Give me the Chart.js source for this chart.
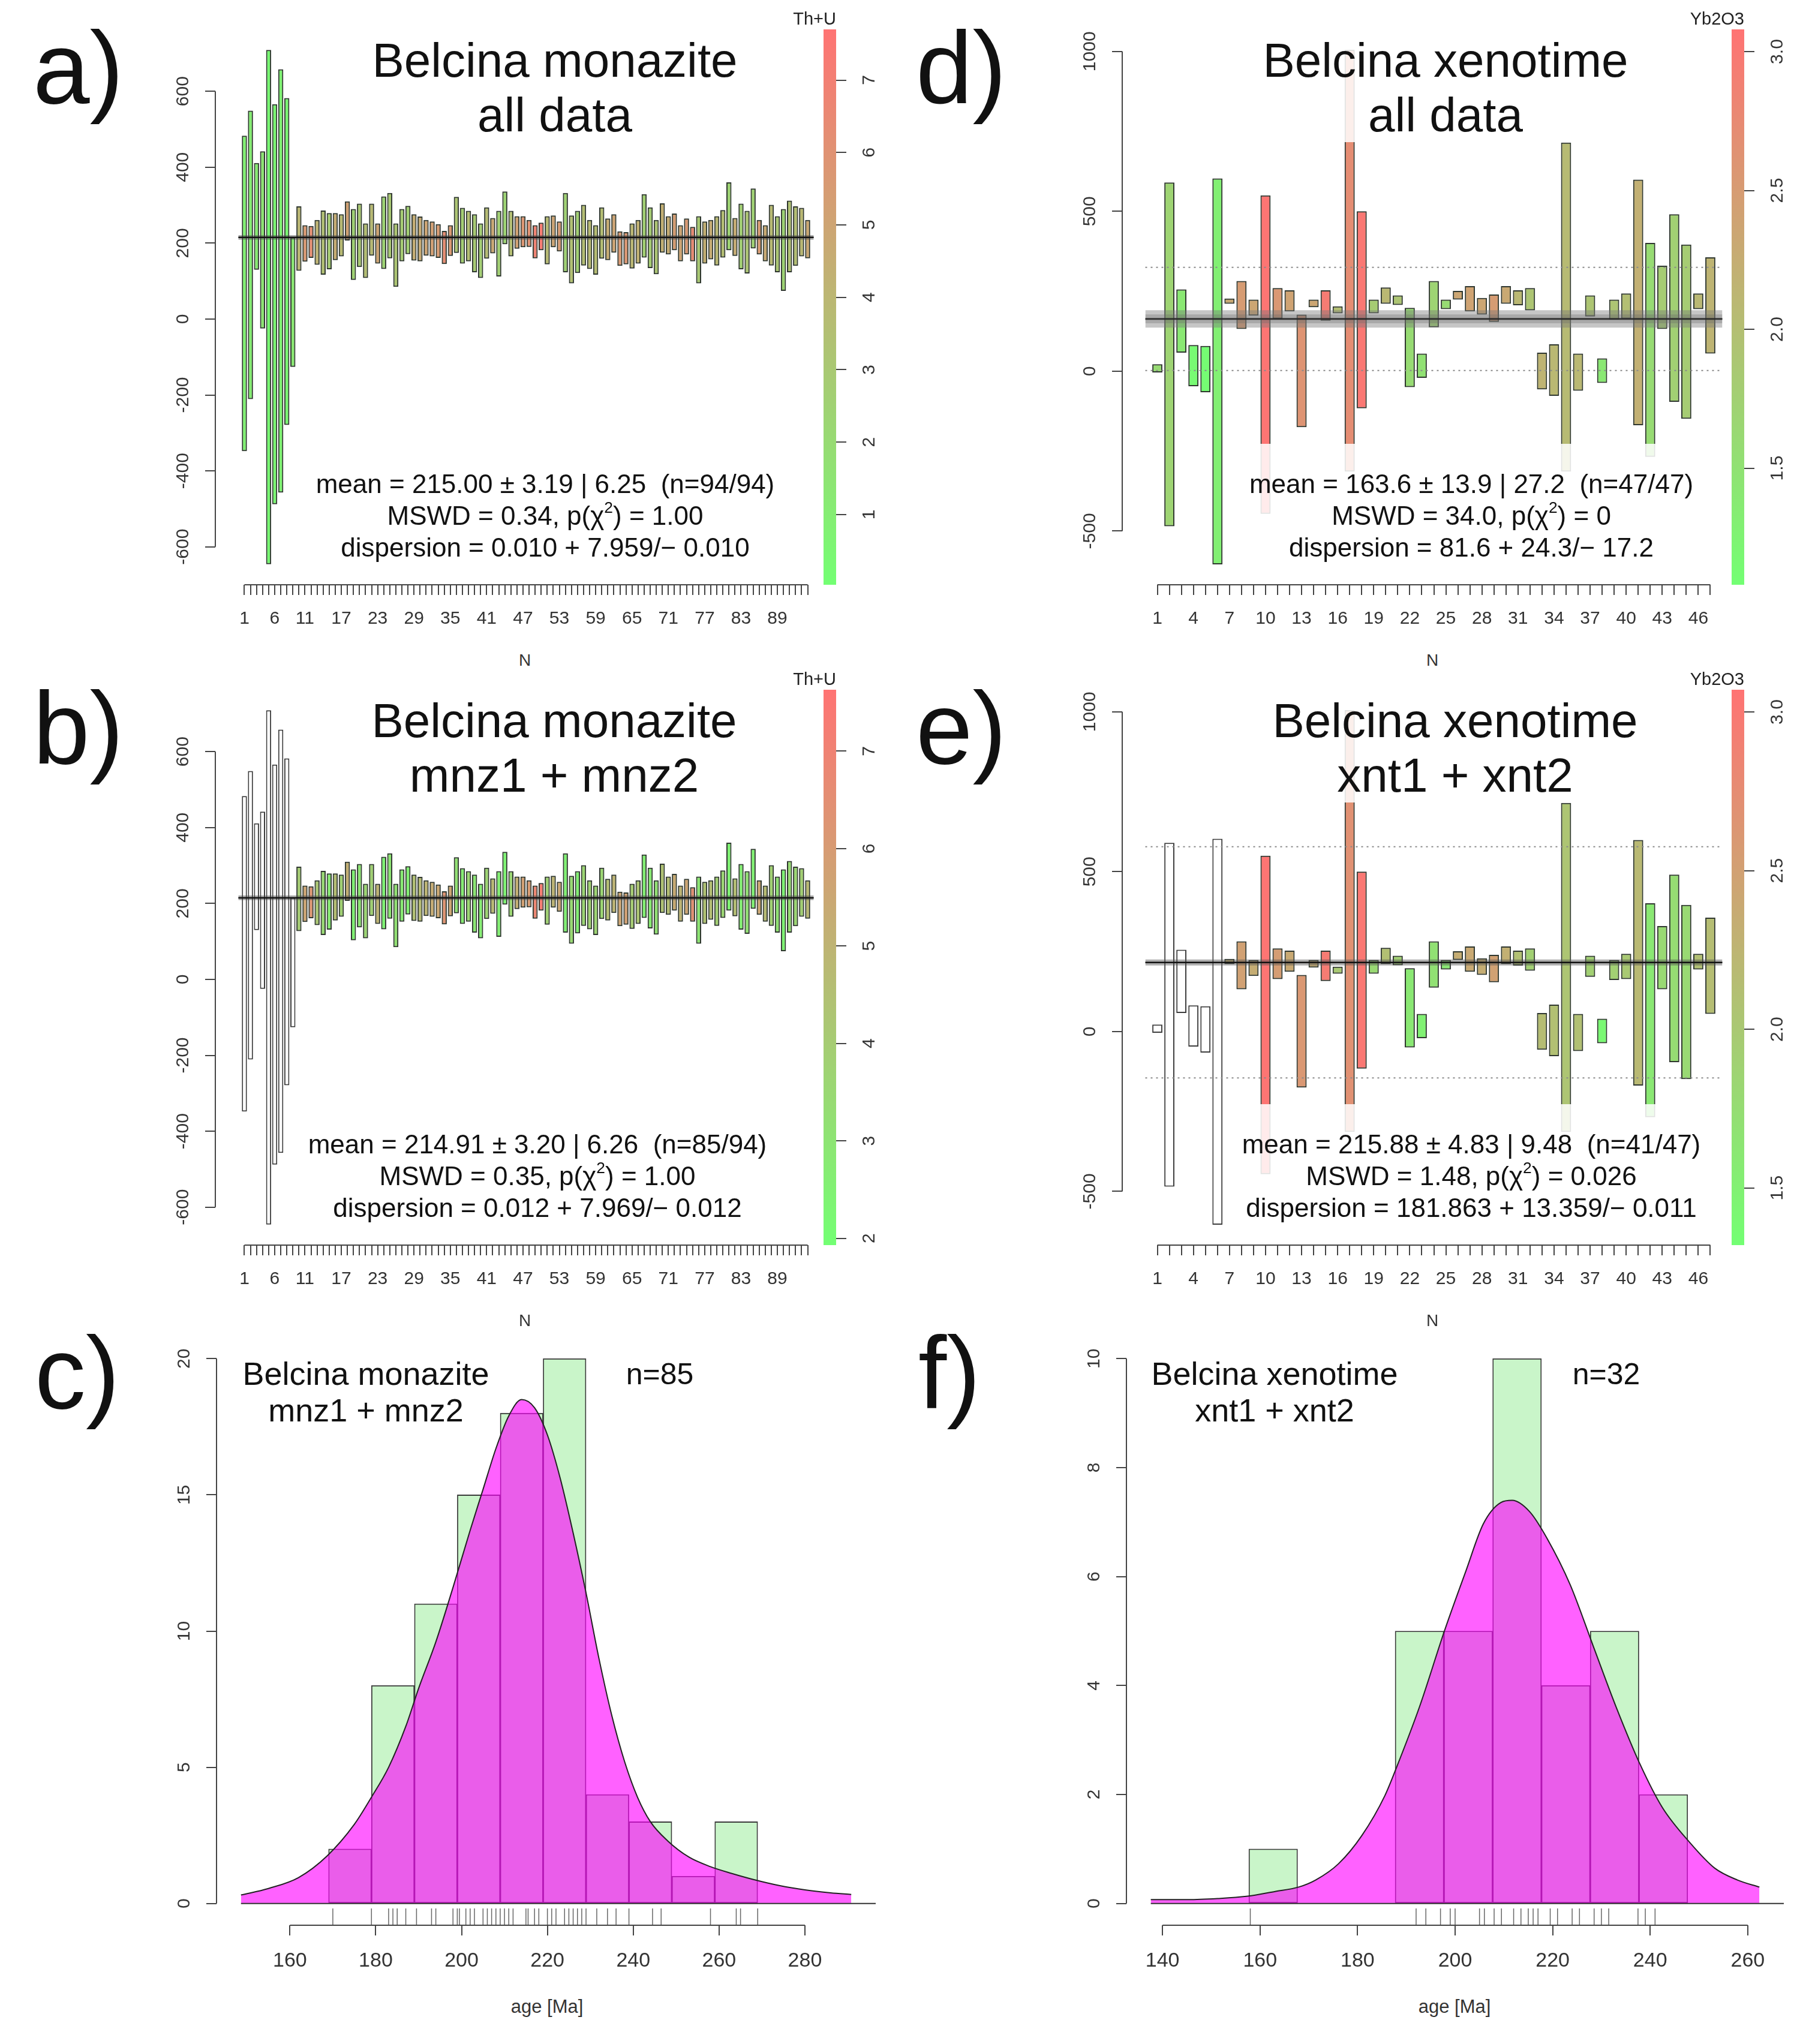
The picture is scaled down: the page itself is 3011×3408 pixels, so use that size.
<!DOCTYPE html>
<html>
<head>
<meta charset="utf-8">
<title>Belcina monazite and xenotime ages</title>
<script src="https://cdn.jsdelivr.net/npm/chart.js@4.4.1/dist/chart.umd.min.js"></script>
<style>
  html, body { margin: 0; padding: 0; background: #fff; overflow: hidden; }
  #page { position: relative; width: 3011px; height: 3408px; overflow: hidden; background: #fff;
          font-family: "Liberation Sans", Arial, Helvetica, sans-serif; color: #111; }
  #page canvas { position: absolute; }
  .t { position: absolute; white-space: nowrap; text-align: center; transform: translateX(-50%); z-index: 5; }
  .fade { background: rgba(255,255,255,0.86); }
  .letter { position: absolute; font-size: 170px; line-height: 170px; z-index: 5; }
  .title { font-size: 80px; line-height: 91px; }
  .stats { font-size: 44px; line-height: 53px; padding-top: 40px; }
  .htitle { font-size: 54px; line-height: 61px; }
  .nlab { font-size: 50px; line-height: 61px; }
  .small { font-size: 28px; line-height: 28px; color: #333; }
  .axt { font-size: 31px; line-height: 31px; color: #333; }
  .cbt { position: absolute; font-size: 29px; line-height: 29px; color: #222; z-index: 5; }
  sup { font-size: 0.6em; line-height: 0; vertical-align: 0.75em; }
</style>
</head>
<body>
<div id="page">
  <div class="letter" style="left:55px;top:28px">a)</div>
  <div class="letter" style="left:55px;top:1129px">b)</div>
  <div class="letter" style="left:58px;top:2204px">c)</div>
  <div class="letter" style="left:1527px;top:28px">d)</div>
  <div class="letter" style="left:1527px;top:1129px">e)</div>
  <div class="letter" style="left:1531px;top:2204px">f)</div>

  <div class="t fade title" style="left:925px;top:55px">Belcina monazite<br>all data</div>
  <div class="t fade title" style="left:924px;top:1156px">Belcina monazite<br>mnz1 + mnz2</div>
  <div class="t fade title" style="left:2410px;top:55px">Belcina xenotime<br>all data</div>
  <div class="t fade title" style="left:2426px;top:1156px">Belcina xenotime<br>xnt1 + xnt2</div>

  <div class="t fade stats" style="left:909px;top:740px">mean = 215.00 ± 3.19 | 6.25&nbsp;&nbsp;(n=94/94)<br>MSWD = 0.34, p(χ<sup>2</sup>) = 1.00<br>dispersion = 0.010 + 7.959/− 0.010</div>
  <div class="t fade stats" style="left:896px;top:1841px">mean = 214.91 ± 3.20 | 6.26&nbsp;&nbsp;(n=85/94)<br>MSWD = 0.35, p(χ<sup>2</sup>) = 1.00<br>dispersion = 0.012 + 7.969/− 0.012</div>
  <div class="t fade stats" style="left:2453px;top:740px">mean = 163.6 ± 13.9 | 27.2&nbsp;&nbsp;(n=47/47)<br>MSWD = 34.0, p(χ<sup>2</sup>) = 0<br>dispersion = 81.6 + 24.3/− 17.2</div>
  <div class="t fade stats" style="left:2453px;top:1841px">mean = 215.88 ± 4.83 | 9.48&nbsp;&nbsp;(n=41/47)<br>MSWD = 1.48, p(χ<sup>2</sup>) = 0.026<br>dispersion = 181.863 + 13.359/− 0.011</div>

  <div class="cbt" style="right:1617px;top:17px">Th+U</div>
  <div class="cbt" style="right:1617px;top:1118px">Th+U</div>
  <div class="cbt" style="right:103px;top:17px">Yb2O3</div>
  <div class="cbt" style="right:103px;top:1118px">Yb2O3</div>

  <div class="t small" style="left:875px;top:1087px">N</div>
  <div class="t small" style="left:2388px;top:1087px">N</div>
  <div class="t small" style="left:875px;top:2188px">N</div>
  <div class="t small" style="left:2388px;top:2188px">N</div>

  <div class="t htitle" style="left:610px;top:2260px">Belcina monazite<br>mnz1 + mnz2</div>
  <div class="t nlab" style="left:1100px;top:2261px">n=85</div>
  <div class="t htitle" style="left:2125px;top:2260px">Belcina xenotime<br>xnt1 + xnt2</div>
  <div class="t nlab" style="left:2678px;top:2261px">n=32</div>

  <div class="t axt" style="left:912px;top:3330px">age [Ma]</div>
  <div class="t axt" style="left:2425px;top:3330px">age [Ma]</div>
</div>

<script>
// monazite spot ages: lower and upper ends of each error bar (Ma), and Th+U of each spot
const monLo = [-348, -211, 130, -25, -646, -488, -457, -279, -126, 127,
  151, 161, 143, 117, 131, 155, 165, 207, 103, 137,
  108, 167, 146, 132, 160, 85, 152, 171, 154, 152,
  167, 165, 161, 145, 166, 174, 146, 152, 123, 108,
  159, 173, 112, 197, 165, 185, 189, 190, 160, 181,
  144, 189, 178, 123, 94, 121, 141, 132, 117, 159,
  155, 175, 140, 144, 133, 146, 162, 134, 118, 175,
  170, 181, 152, 170, 152, 94, 146, 157, 141, 162,
  181, 166, 131, 120, 186, 170, 152, 141, 123, 74,
  123, 140, 165, 160];
const monHi = [483, 549, 411, 442, 709, 566, 658, 582, 215, 297,
  247, 245, 261, 286, 279, 279, 276, 310, 290, 304,
  252, 304, 252, 323, 332, 252, 290, 298, 276, 270,
  261, 257, 250, 232, 247, 322, 293, 285, 276, 252,
  294, 266, 285, 336, 285, 271, 271, 261, 247, 254,
  271, 273, 257, 332, 273, 285, 301, 261, 247, 294,
  265, 276, 231, 229, 252, 261, 329, 294, 261, 305,
  271, 278, 247, 265, 243, 271, 257, 261, 271, 287,
  360, 266, 304, 285, 344, 261, 247, 301, 271, 290,
  312, 297, 293, 261];
const monThU = [0.8, 1.0, 1.2, 1.5, 0.3, 0.5, 0.7, 0.4, 1.3, 4.0,
  5.6, 6.2, 4.2, 3.5, 2.8, 4.6, 3.8, 5.2, 2.5, 3.0,
  3.6, 3.8, 5.0, 2.4, 3.0, 3.2, 2.8, 2.6, 4.5, 4.7,
  5.0, 5.3, 5.5, 6.3, 5.6, 3.2, 2.7, 3.6, 2.9, 2.7,
  3.7, 4.8, 2.6, 2.4, 3.6, 5.2, 5.8, 6.0, 6.8, 7.2,
  3.8, 5.0, 5.5, 2.5, 3.5, 2.6, 3.6, 3.8, 3.7, 3.6,
  4.6, 5.0, 5.6, 5.8, 4.0, 4.3, 2.6, 2.8, 3.2, 4.4,
  4.6, 5.4, 5.0, 5.6, 6.4, 3.0, 4.4, 4.6, 3.9, 3.6,
  2.4, 4.6, 2.6, 3.2, 2.5, 5.5, 4.7, 3.8, 3.1, 2.4,
  3.4, 3.6, 3.9, 4.8];

// xenotime spot ages and Yb2O3
const xenLo = [-4, -485, 58, -47, -66, -604, 211, 132, 174, -446,
  164, 187, -175, 200, 158, 181, -314, -116, 181, 211,
  207, -50, -21, 137, 194, 224, 187, 177, 154, 211,
  206, 190, -57, -77, -314, -61, 171, -37, 161, 164,
  -169, -268, 132, -96, -149, 194, 55];
const xenHi = [22, 590, 256, 82, 79, 603, 227, 282, 224, 550,
  260, 253, 177, 224, 253, 203, 1005, 500, 224, 262,
  237, 198, 55, 282, 224, 251, 266, 229, 240, 266,
  253, 260, 58, 84, 715, 55, 237, 40, 224, 243,
  599, 401, 330, 491, 396, 243, 356];
const xenYb = [1.6, 1.7, 1.4, 1.15, 1.1, 1.3, 2.3, 2.5, 2.35, 3.05,
  2.55, 2.4, 2.6, 2.35, 2.95, 2.0, 2.7, 3.0, 1.8, 2.1,
  1.9, 1.6, 1.5, 1.7, 1.6, 2.35, 2.4, 2.35, 2.5, 2.3,
  2.1, 1.9, 2.15, 2.1, 2.05, 2.1, 1.9, 1.4, 1.9, 2.0,
  2.2, 1.6, 1.8, 1.75, 1.8, 2.1, 2.15];

// tick labels
const monLabels = [1, 6, 11, 17, 23, 29, 35, 41, 47, 53, 59, 65, 71, 77, 83, 89];
const xenLabels = [1, 4, 7, 10, 13, 16, 19, 22, 25, 28, 31, 34, 37, 40, 43, 46];
const monYTicks = [-600, -400, -200, 0, 200, 400, 600];
const xenYTicks = [-500, 0, 500, 1000];

// colour scale ranges
const thuRangeAll = [0.03, 7.70];
const thuRangeSel = [1.93, 7.63];
const ybRangeAll = [1.08, 3.08];
const ybRangeSel = [1.32, 3.07];

// histograms (bin centres, counts), density curves and rug ticks
const monBins = [174, 184, 194, 204, 214, 224, 234, 244, 254, 264];
const monCounts = [2, 8, 11, 15, 18, 20, 4, 3, 1, 3];
const monKdeX = [148.6, 155, 162, 168.7, 175, 179, 183, 187, 190, 194, 198, 202, 205, 208, 211, 214,
  217, 220, 223, 226, 229, 232, 235, 238, 241, 244, 248, 253, 258, 263, 268, 274, 280, 286, 290.8];
const monKdeY = [0.31, 0.55, 0.95, 1.75, 2.9, 3.9, 5.0, 6.5, 7.9, 9.6, 11.6, 13.7, 15.2, 16.7, 17.9, 18.5,
  18.2, 17.2, 15.6, 13.6, 11.4, 9.0, 6.9, 5.2, 3.9, 3.0, 2.3, 1.7, 1.35, 1.1, 0.88, 0.66, 0.5, 0.39, 0.33];
const monRug = [170, 179, 183, 184, 185, 187, 189.5, 193, 194, 198, 199, 199.5, 201, 202, 203, 205, 206, 207,
  208, 209, 210, 211, 212, 215, 215.5, 217, 218, 220, 221, 222, 224, 225, 226, 227, 228, 229, 231.5,
  234, 236, 239, 244.5, 246.5, 258, 264, 265, 269];

const xenBins = [162.7, 172.7, 182.7, 192.7, 202.7, 212.7, 222.7, 232.7, 242.7];
const xenCounts = [1, 0, 0, 5, 5, 10, 4, 5, 2];
const xenKdeX = [137.6, 145.3, 151.3, 157.2, 163.1, 167.9, 171.4, 176.1, 180.9, 185.6, 188, 192.7, 197.8,
  202.2, 205.8, 209.4, 211.7, 215.3, 218.8, 223.6, 228.3, 233, 238, 242.5, 248.1, 253.2, 257.9, 262.4];
const xenKdeY = [0.07, 0.07, 0.09, 0.13, 0.22, 0.30, 0.43, 0.73, 1.25, 1.98, 2.5, 3.61, 5.0,
  6.1, 6.97, 7.36, 7.4, 7.19, 6.71, 5.85, 4.73, 3.61, 2.54, 1.76, 1.12, 0.65, 0.43, 0.30];
const xenRug = [158, 192, 194, 197, 199, 200, 205, 206, 208, 209.5, 212, 213.5, 215, 216, 217, 219.5,
  221, 224, 225.5, 228.5, 230, 231.5, 237.5, 239, 241];

const FONT = '"Liberation Sans", Arial, Helvetica, sans-serif';
Chart.defaults.font.family = FONT;
Chart.defaults.color = '#333';

const page = document.getElementById('page');

// green -> red, half transparent, like the R colour ramp
function ramp(v, lo, hi, alpha) {
  const t = Math.min(1, Math.max(0, (v - lo) / (hi - lo)));
  return `rgba(${Math.round(255 * t)},${Math.round(255 * (1 - t))},0,${alpha})`;
}

function canvasAt(box) {
  const c = document.createElement('canvas');
  c.width = box.w;
  c.height = box.h;
  c.style.left = box.x + 'px';
  c.style.top = box.y + 'px';
  c.style.width = box.w + 'px';
  c.style.height = box.h + 'px';
  page.insertBefore(c, page.firstChild);
  return c;
}

// R style axes: line only between first and last tick, labels parallel to the axis
const rAxes = {
  id: 'rAxes',
  afterDraw(chart, args, o) {
    const ctx = chart.ctx;
    ctx.save();
    Object.values(chart.scales).forEach(s => {
      if (!s.options.display || !s.ticks.length) return;
      const p0 = s.getPixelForValue(s.ticks[0].value);
      const p1 = s.getPixelForValue(s.ticks[s.ticks.length - 1].value);
      ctx.strokeStyle = '#444';
      ctx.lineWidth = 2;
      if (s.isHorizontal()) {
        ctx.beginPath();
        ctx.moveTo(p0, s.top);
        ctx.lineTo(p1, s.top);
        ctx.stroke();
        return;
      }
      const right = s.position === 'right';
      const ax = right ? s.left : s.right;
      if (!right) {
        ctx.beginPath();
        ctx.moveTo(ax, p0);
        ctx.lineTo(ax, p1);
        ctx.stroke();
      }
      ctx.fillStyle = '#333';
      ctx.font = o.size + 'px ' + FONT;
      ctx.textAlign = 'center';
      ctx.textBaseline = 'middle';
      s.ticks.forEach(t => {
        ctx.save();
        ctx.translate(right ? ax + o.offset : ax - o.offset, s.getPixelForValue(t.value));
        ctx.rotate(-Math.PI / 2);
        ctx.fillText(t.value.toFixed(o.decimals), 0, 0);
        ctx.restore();
      });
    });
    ctx.restore();
  }
};

function frame(box, area) {
  return {
    padding: { top: area.t - box.y, right: box.x + box.w - area.r, left: 0, bottom: 0 },
    yw: area.l - box.x,
    xh: box.y + box.h - area.b
  };
}

const setTicks = values => s => { s.ticks = values.map(v => ({ value: v })); };

function axisX(min, max, ticks, labels, xh, size) {
  return {
    type: 'linear', position: 'bottom', min, max, offset: false,
    afterBuildTicks: setTicks(ticks),
    afterFit: s => { s.height = xh; },
    ticks: { autoSkip: false, maxRotation: 0, minRotation: 0, padding: 22, font: { size }, color: '#333',
      callback: v => labels.includes(v) ? String(v) : '' },
    grid: { offset: false, drawOnChartArea: false, drawTicks: true, tickLength: 17, color: '#444', lineWidth: 2 },
    border: { display: false }
  };
}

function axisY(min, max, ticks, width, position) {
  return {
    type: 'linear', position, min, max,
    afterBuildTicks: setTicks(ticks),
    afterFit: s => { s.width = width; },
    ticks: { display: false },
    grid: { drawOnChartArea: false, drawTicks: true, tickLength: 17, color: '#444', lineWidth: 2 },
    border: { display: false }
  };
}

function hLine(y, x0, x1, color, width, dash, order) {
  return { type: 'line', order, data: [{ x: x0, y }, { x: x1, y }], borderColor: color, borderWidth: width,
    borderDash: dash, pointRadius: 0, fill: false };
}

function baseOptions(f, decimals) {
  return {
    responsive: false, animation: false, events: [], devicePixelRatio: 1,
    layout: { padding: f.padding, autoPadding: false },
    plugins: { legend: { display: false }, tooltip: { enabled: false },
      rAxes: { offset: 53, size: 30, decimals } }
  };
}

function ageChart(p) {
  const f = frame(p.box, p.area);
  const n = p.lo.length;
  const xTicks = p.lo.map((v, i) => i + 1);
  const datasets = [{
    type: 'bar', order: 5,
    data: p.lo.map((v, i) => ({ x: i + 1, y: [v, p.hi[i]] })),
    backgroundColor: p.lo.map((v, i) => i < p.rejected ? '#ffffff' : ramp(p.col[i], p.colRange[0], p.colRange[1], 0.55)),
    borderColor: p.lo.map((v, i) => i < p.rejected ? 'rgba(40,40,40,0.9)' : 'rgba(10,20,10,0.85)'),
    borderWidth: 2, borderSkipped: false,
    barPercentage: 0.84, categoryPercentage: 1
  }];
  p.dotted.forEach(y => datasets.push(hLine(y, 0, n + 1, '#8a8a8a', 2, [3, 6], 3)));
  p.bands.forEach(b => datasets.push({
    type: 'line', order: 2,
    data: [{ x: 0, y: p.mean + b.w }, { x: n + 1, y: p.mean + b.w }],
    fill: { value: p.mean - b.w }, backgroundColor: b.c, borderWidth: 0, pointRadius: 0
  }));
  datasets.push(hLine(p.mean, 0, n + 1, p.lineColor, p.lineWidth, [], 0));

  const options = baseOptions(f, 0);
  options.scales = {
    x: axisX(p.x[0], p.x[1], xTicks, p.labels, f.xh, 30),
    y: axisY(p.y[0], p.y[1], p.yTicks, f.yw, 'left')
  };
  new Chart(canvasAt(p.box), { type: 'bar', data: { datasets }, options, plugins: [rAxes] });
}

function colourBar(p) {
  const f = frame(p.box, p.area);
  const [lo, hi] = p.range;
  const options = baseOptions(f, p.decimals);
  options.plugins.rAxes.offset = 56;
  options.scales = {
    x: { display: false },
    y: axisY(lo, hi, p.ticks, p.box.x + p.box.w - p.area.r, 'right')
  };
  options.layout.padding = { top: 0, right: 0, left: 0, bottom: 0 };
  new Chart(canvasAt(p.box), {
    type: 'bar',
    data: {
      labels: ['scale'],
      datasets: [{
        data: [[lo, hi]], borderWidth: 0, barPercentage: 1, categoryPercentage: 1,
        backgroundColor: c => {
          const a = c.chart.chartArea;
          if (!a) return 'transparent';
          const g = c.chart.ctx.createLinearGradient(0, a.bottom, 0, a.top);
          for (let k = 0; k <= 10; k++) g.addColorStop(k / 10, ramp(k / 10, 0, 1, 0.55));
          return g;
        }
      }]
    },
    options,
    plugins: [rAxes]
  });
}

function histChart(p) {
  const f = frame(p.box, p.area);
  const rugPix = 28;
  const yPerPx = (p.y[1] - p.y[0]) / (p.area.b - p.area.t);
  const rugY = p.y[0] + rugPix / 2 * yPerPx;
  const datasets = [
    {
      type: 'line', order: 0, data: p.rug.map(v => ({ x: v, y: rugY })), showLine: false,
      pointStyle: 'line', pointRotation: 90, pointRadius: rugPix / 2,
      pointBorderColor: '#666', pointBorderWidth: 1.5
    },
    hLine(0, p.kdeX[0], p.x[1], '#333', 2, [], 0),
    {
      type: 'line', order: 1, data: p.kdeX.map((v, i) => ({ x: v, y: p.kdeY[i] })),
      fill: 'origin', backgroundColor: 'rgba(255,0,255,0.62)', borderColor: '#222', borderWidth: 2,
      pointRadius: 0, cubicInterpolationMode: 'monotone'
    },
    {
      type: 'bar', order: 4, data: p.bins.map((v, i) => ({ x: v, y: p.counts[i] })),
      backgroundColor: '#c9f5c9', borderColor: '#3a3a3a', borderWidth: 1.8, borderSkipped: false,
      barPercentage: 1, categoryPercentage: 1
    }
  ];
  const options = baseOptions(f, 0);
  options.scales = {
    x: axisX(p.x[0], p.x[1], p.xTicks, p.xTicks, f.xh, 34),
    y: axisY(p.y[0], p.y[1], p.yTicks, f.yw, 'left')
  };
  new Chart(canvasAt(p.box), { type: 'bar', data: { datasets }, options, plugins: [rAxes] });
}

// a) monazite, all data
ageChart({
  box: { x: 250, y: 40, w: 1150, h: 1020 }, area: { l: 359, t: 49, r: 1395, b: 975 },
  x: [-3.8, 98.8], y: [-700, 763], yTicks: monYTicks, labels: monLabels,
  lo: monLo, hi: monHi, col: monThU, colRange: thuRangeAll, rejected: 0,
  mean: 215.00, bands: [{ w: 6.25, c: 'rgba(70,70,70,0.45)' }], dotted: [],
  lineColor: '#111', lineWidth: 2.5
});
// b) monazite, mnz1 + mnz2
ageChart({
  box: { x: 250, y: 1141, w: 1150, h: 1020 }, area: { l: 359, t: 1150, r: 1395, b: 2076 },
  x: [-3.8, 98.8], y: [-700, 763], yTicks: monYTicks, labels: monLabels,
  lo: monLo, hi: monHi, col: monThU, colRange: thuRangeSel, rejected: 9,
  mean: 214.91, bands: [{ w: 6.26, c: 'rgba(70,70,70,0.45)' }], dotted: [],
  lineColor: '#111', lineWidth: 2.5
});
// d) xenotime, all data
ageChart({
  box: { x: 1760, y: 40, w: 1155, h: 1020 }, area: { l: 1871, t: 49, r: 2910, b: 975 },
  x: [-1.92, 49.92], y: [-668, 1069], yTicks: xenYTicks, labels: xenLabels,
  lo: xenLo, hi: xenHi, col: xenYb, colRange: ybRangeAll, rejected: 0,
  mean: 163.6, bands: [{ w: 27.2, c: 'rgba(120,120,120,0.42)' }, { w: 13.9, c: 'rgba(90,90,90,0.3)' }],
  dotted: [2, 325], lineColor: 'rgba(40,40,40,0.9)', lineWidth: 3
});
// e) xenotime, xnt1 + xnt2
ageChart({
  box: { x: 1760, y: 1141, w: 1155, h: 1020 }, area: { l: 1871, t: 1150, r: 2910, b: 2076 },
  x: [-1.92, 49.92], y: [-668, 1069], yTicks: xenYTicks, labels: xenLabels,
  lo: xenLo, hi: xenHi, col: xenYb, colRange: ybRangeSel, rejected: 6,
  mean: 215.88, bands: [{ w: 9.48, c: 'rgba(80,80,80,0.45)' }],
  dotted: [-145, 578], lineColor: '#111', lineWidth: 2.5
});

colourBar({ box: { x: 1373, y: 49, w: 107, h: 926 }, area: { l: 1373, t: 49, r: 1394, b: 975 },
  range: thuRangeAll, ticks: [1, 2, 3, 4, 5, 6, 7], decimals: 0 });
colourBar({ box: { x: 1373, y: 1150, w: 107, h: 926 }, area: { l: 1373, t: 1150, r: 1394, b: 2076 },
  range: thuRangeSel, ticks: [2, 3, 4, 5, 6, 7], decimals: 0 });
colourBar({ box: { x: 2887, y: 49, w: 107, h: 926 }, area: { l: 2887, t: 49, r: 2908, b: 975 },
  range: ybRangeAll, ticks: [1.5, 2.0, 2.5, 3.0], decimals: 1 });
colourBar({ box: { x: 2887, y: 1150, w: 107, h: 926 }, area: { l: 2887, t: 1150, r: 2908, b: 2076 },
  range: ybRangeSel, ticks: [1.5, 2.0, 2.5, 3.0], decimals: 1 });

// c) monazite histogram
histChart({
  box: { x: 250, y: 2215, w: 1220, h: 1105 }, area: { l: 361, t: 2229, r: 1460, b: 3210 },
  x: [142.9, 296.5], y: [-0.8, 20.8], xTicks: [160, 180, 200, 220, 240, 260, 280], yTicks: [0, 5, 10, 15, 20],
  bins: monBins, counts: monCounts, kdeX: monKdeX, kdeY: monKdeY, rug: monRug
});
// f) xenotime histogram
histChart({
  box: { x: 1770, y: 2215, w: 1215, h: 1105 }, area: { l: 1878, t: 2229, r: 2974, b: 3210 },
  x: [132.6, 267.4], y: [-0.4, 10.4], xTicks: [140, 160, 180, 200, 220, 240, 260], yTicks: [0, 2, 4, 6, 8, 10],
  bins: xenBins, counts: xenCounts, kdeX: xenKdeX, kdeY: xenKdeY, rug: xenRug
});
</script>
</body>
</html>
